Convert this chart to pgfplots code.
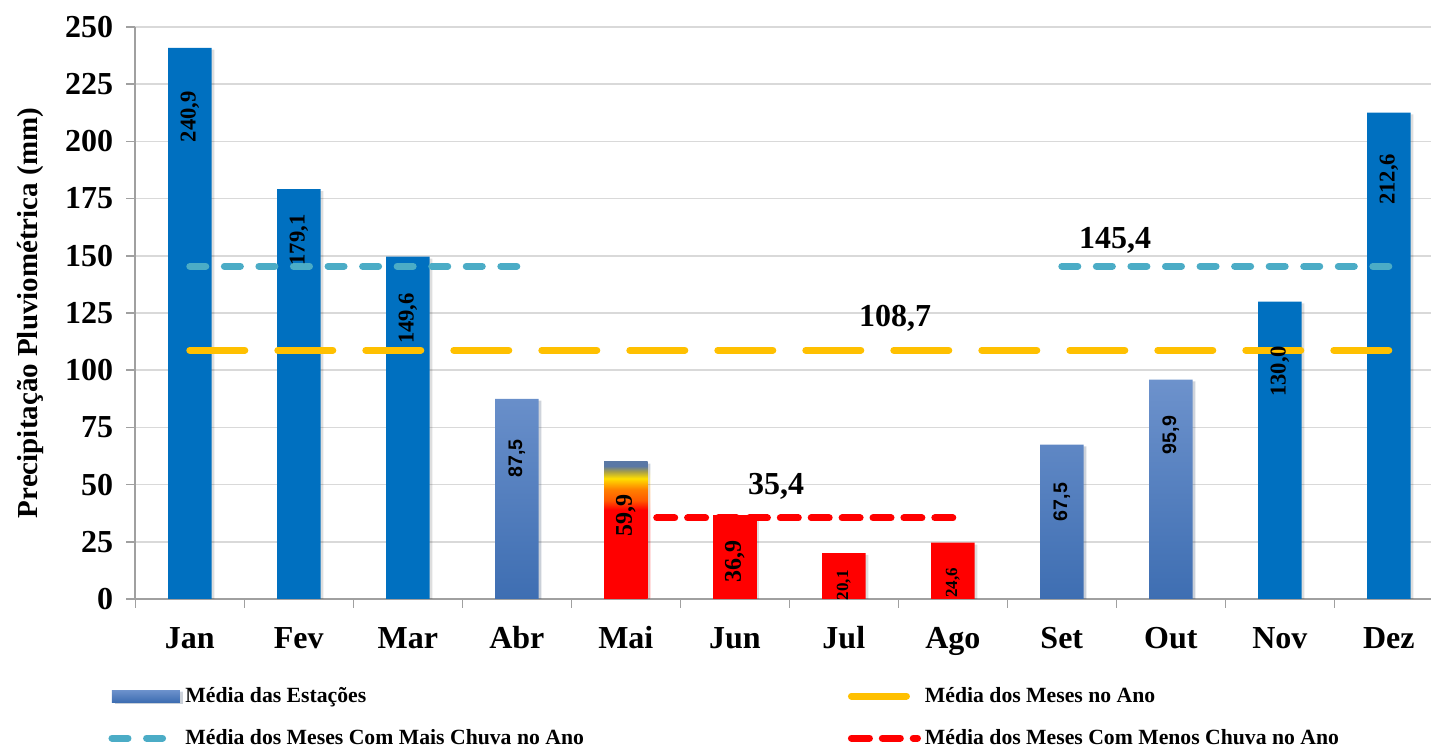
\documentclass[border=0pt]{standalone}
\usepackage{fontspec}
\setmainfont{Liberation Serif}
\setsansfont{Liberation Sans}
\usepackage{pgfplots}
\usepackage{pgfplotstable}
\pgfplotsset{compat=1.18}

\definecolor{solidblue}{RGB}{0,112,192}
\definecolor{gradtop}{RGB}{109,146,204}
\definecolor{gradbot}{RGB}{62,110,178}
\definecolor{cyanline}{RGB}{75,172,198}
\definecolor{yellowline}{RGB}{255,192,0}
\definecolor{gridgray}{RGB}{217,217,217}
\definecolor{axisgray}{RGB}{160,160,160}
\definecolor{maitop}{RGB}{90,120,165}
\definecolor{maiolive}{RGB}{170,160,70}

% Mai bar: red below, orange and yellow towards the top
\pgfdeclareverticalshading{maishade}{100bp}{color(0bp)=(red); color(25bp)=(red); color(57.5bp)=(red); color(61bp)=(orange!70!red); color(65bp)=(orange); color(69bp)=(yellow!75!orange); color(71.5bp)=(maiolive); color(73.5bp)=(maitop); color(75bp)=(maitop); color(100bp)=(maitop)}

% x = month index, y = mm, off = distance of label below bar top (pt)
\pgfplotstableread{
x y off
0 240.9 21.5
1 179.1 12.5
2 149.6 18
10 130.0 22
11 212.6 20.5
}\solidtab
\pgfplotstableread{
x y off
3 87.5 20
8 67.5 19
9 95.9 18
}\gradtab
\pgfplotstableread{
x y off
4 59.9 16
}\maitab
\pgfplotstableread{
x y off
5 36.9 13
}\juntab
\pgfplotstableread{
x y off
6 20.1 8.5
7 24.6 12.5
}\redtab

\pgfplotsset{
    barlabels/.style={
        ybar, bar width=21.7pt, bar shift=0pt, draw=none,
        preaction={fill=black, opacity=0.13, transform canvas={xshift=1.4pt, yshift=-0.9pt}},
        nodes near coords={\pgfmathprintnumber[fixed, fixed zerofill, precision=1, use comma]{\pgfplotspointmeta}},
        visualization depends on={\thisrow{off}\as\off},
        every node near coord/.append style={rotate=90, anchor=east, inner sep=0pt, xshift=-\off pt, text=black, font=#1},
    },
    meanline/.style={sharp plot, line width=3.5pt, line cap=round,
        legend image code/.code={\draw[##1] (0pt,0pt) -- (33pt,0pt);}},
}

\begin{document}
\begin{tikzpicture}
\begin{axis}[
    at={(67.65pt,74.5pt)}, anchor=south west,
    scale only axis,
    width=647.85pt, height=286pt,
    xmin=-0.5, xmax=11.387,
    ymin=0, ymax=250,
    ytick={0,25,...,250},
    xtick={0,...,11},
    xticklabels={Jan,Fev,Mar,Abr,Mai,Jun,Jul,Ago,Set,Out,Nov,Dez},
    extra x ticks={-0.5,0.5,...,10.5},
    extra x tick labels={},
    extra x tick style={major tick length=4.5pt, tick align=outside, xmajorgrids=false,
        x tick style={draw=axisgray, line width=0.75pt}},
    axis x line*=bottom, axis y line*=left,
    axis line style={draw=axisgray, line width=1pt, -},
    x tick style={draw=none},
    y tick style={draw=axisgray, line width=0.75pt},
    tick align=outside, major tick length=4.5pt,
    ymajorgrids, grid style={draw=gridgray, line width=0.75pt},
    /pgf/number format/assume math mode=true,
    ticklabel style={font=\bfseries\fontsize{16}{16}\selectfont},
    yticklabel style={anchor=east, xshift=-3pt},
    xticklabel style={anchor=base, yshift=-20.5pt},
    every axis y label/.style={at={(axis description cs:0,0.5)}, xshift=-52.6pt, rotate=90, anchor=center},
    ylabel={Precipitação Pluviométrica (mm)},
    label style={font=\bfseries\fontsize{14.5}{14.5}\selectfont},
    legend columns=2,
    legend style={at={(axis description cs:-0.021,-0.2065)}, anchor=west, draw=none, fill=none,
        font=\bfseries\fontsize{10.85}{10.85}\selectfont, row sep=8pt, inner sep=0pt,
        /tikz/column 2/.style={column sep=130pt},
        nodes={inner sep=2pt}},
    legend cell align=left,
]
\addplot[barlabels={\bfseries\fontsize{11.3}{11.3}\selectfont}, fill=solidblue, forget plot]
    table[x=x, y=y] {\solidtab};
\addplot[barlabels={\sffamily\bfseries\fontsize{9.8}{10}\selectfont}, top color=gradtop, bottom color=gradbot,
    legend image code/.code={\fill[top color=gradtop, bottom color=gradbot] (0pt,-3pt) rectangle (34pt,3pt);}]
    table[x=x, y=y] {\gradtab};
\addlegendentry{Média das Estações}
\addplot[barlabels={\bfseries\fontsize{12}{12}\selectfont}, shading=maishade, forget plot]
    table[x=x, y=y] {\maitab};
\addplot[barlabels={\bfseries\fontsize{12}{12}\selectfont}, fill=red, forget plot]
    table[x=x, y=y] {\juntab};
\addplot[barlabels={\bfseries\fontsize{8.5}{8.5}\selectfont}, fill=red, forget plot]
    table[x=x, y=y] {\redtab};
% horizontal means
\addplot[meanline, draw=yellowline, dash pattern=on 27.5pt off 16.5pt]
    coordinates {(0,108.7) (11,108.7)};
\addlegendentry{Média dos Meses no Ano}
\addplot[meanline, draw=cyanline, dash pattern=on 8pt off 9.28pt]
    coordinates {(0,145.4) (3,145.4)};
\addlegendentry{Média dos Meses Com Mais Chuva no Ano}
\addplot[meanline, draw=cyanline, dash pattern=on 8pt off 9.28pt, forget plot]
    coordinates {(8,145.4) (11,145.4)};
\addplot[meanline, draw=red, dash pattern=on 9pt off 6.45pt]
    coordinates {(4,35.4) (7,35.4)};
\addlegendentry{Média dos Meses Com Menos Chuva no Ano}
\node[font=\bfseries\fontsize{16}{16}\selectfont] at (axis cs:8.49,156.9) {145,4};
\node[font=\bfseries\fontsize{16}{16}\selectfont] at (axis cs:6.47,122.8) {108,7};
\node[font=\bfseries\fontsize{16}{16}\selectfont] at (axis cs:5.38,49.4) {35,4};
\end{axis}
\pgfresetboundingbox
\useasboundingbox (0,0) rectangle (715.5pt,374pt);
\end{tikzpicture}
\end{document}
